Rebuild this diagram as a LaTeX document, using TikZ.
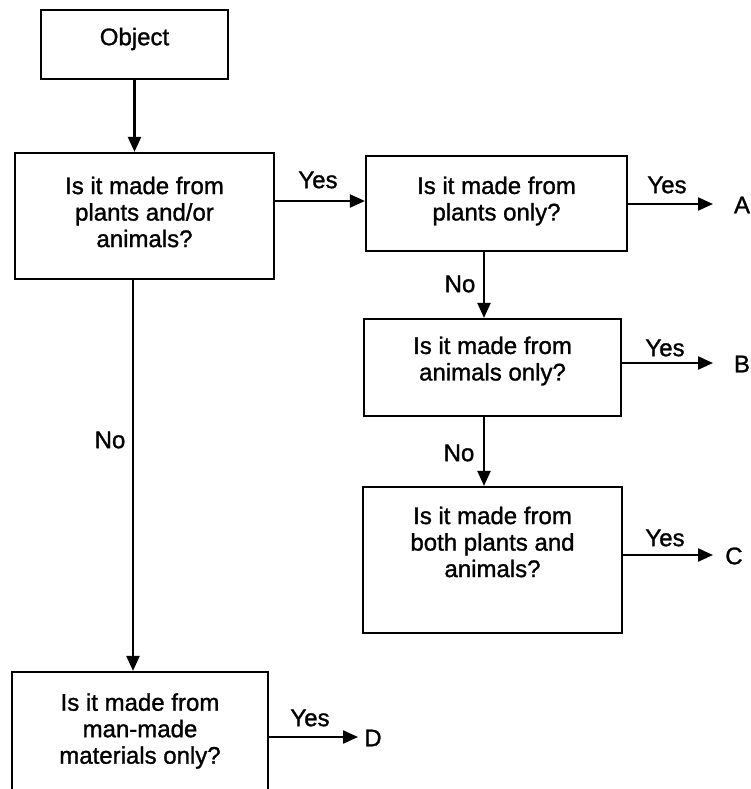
\documentclass[tikz,border=0pt]{standalone}
\usepackage{fontspec}
\setmainfont{Liberation Sans}[RawFeature={embolden=1.2}]
\usetikzlibrary{arrows.meta}
\begin{document}
\begin{tikzpicture}[x=1pt,y=-1pt,
  box/.style={draw,line width=2.2pt,rectangle,inner sep=0pt},
  txt/.style={align=center,inner sep=0pt,font=\fontsize{24}{26.5}\selectfont},
  lbl/.style={inner sep=0pt,font=\fontsize{24}{26.5}\selectfont},
  arr/.style={line width=2.2pt,-{Triangle[length=15pt,width=13pt]}}]
\useasboundingbox (0,0) rectangle (750,789);
% boxes
\node[box,minimum width=187pt,minimum height=69pt] (obj) at (134.5,44.5) {};
\node[box,minimum width=259pt,minimum height=126pt] (b1) at (144.5,216) {};
\node[box,minimum width=261pt,minimum height=95pt] (b2) at (496.5,203.5) {};
\node[box,minimum width=257pt,minimum height=97pt] (b3) at (492.5,367.5) {};
\node[box,minimum width=259pt,minimum height=146pt] (b4) at (492.5,560) {};
\node[box,minimum width=256pt,minimum height=123pt] (b5) at (140,733.5) {};
% texts
\node[txt] (t0) at (134.5,39) {Object};
\node[txt] (t1) at (144.5,212) {Is it made from\\plants and/or\\animals?};
\node[txt] (t2) at (496.5,201) {Is it made from\\plants only?};
\node[txt] (t3) at (492.5,361) {Is it made from\\animals only?};
\node[txt] (t4) at (492.5,542) {Is it made from\\both plants and\\animals?};
\node[txt] (t5) at (140,731) {Is it made from\\man-made\\materials only?};
% end points
\coordinate (eA) at (713,204);
\coordinate (eB) at (713,363);
\coordinate (eC) at (713,555);
\coordinate (eD) at (358,737);
\node[lbl] (A) at (742,205) {A};
\node[lbl] (B) at (742,364) {B};
\node[lbl] (C) at (734,556) {C};
\node[lbl] (D) at (373,738) {D};
% connectors
\draw[arr] (obj.south) -- (obj.south |- b1.north);
\draw[arr] ([yshift=15pt]b1.east) coordinate (p1) -- (p1 -| b2.west);
\draw[arr] (b2.east |- eA) -- (eA);
\draw[arr] ([xshift=-12.5pt]b2.south) -- ([xshift=-8.5pt]b3.north);
\draw[arr] (b3.east |- eB) -- (eB);
\draw[arr] ([xshift=-8.5pt]b3.south) -- ([xshift=-8.5pt]b4.north);
\draw[arr] (b4.east |- eC) -- (eC);
\draw[arr] ([xshift=-11.5pt]b1.south) -- ([xshift=-7pt]b5.north);
\draw[arr] (b5.east |- eD) -- (eD);
% labels
\node[lbl] (y1) at (318,180) {Yes};
\node[lbl] (y2) at (667,185) {Yes};
\node[lbl] (n2) at (460,284) {No};
\node[lbl] (y3) at (665,348) {Yes};
\node[lbl] (n3) at (459,453) {No};
\node[lbl] (y4) at (665,538) {Yes};
\node[lbl] (n1) at (110,440) {No};
\node[lbl] (y5) at (310,718) {Yes};
\end{tikzpicture}
\end{document}
